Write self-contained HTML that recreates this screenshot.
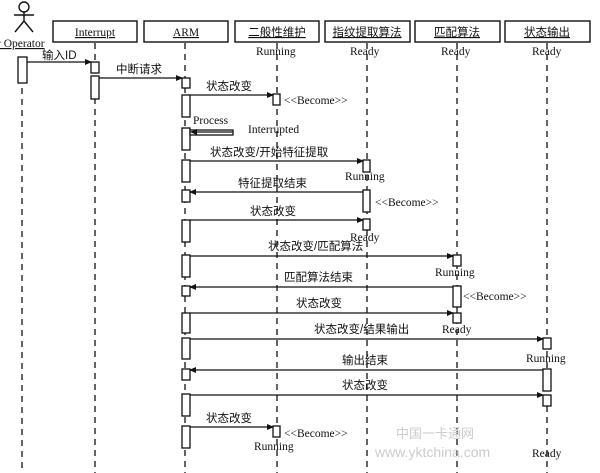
<!DOCTYPE html>
<html><head><meta charset="utf-8"><style>
html,body{margin:0;padding:0;background:#fff;}
svg{display:block;}
text{font-family:"Liberation Serif","Noto Serif CJK SC",serif;font-size:11.5px;fill:#111;}
.cj{font-family:"Liberation Sans","Noto Sans CJK SC",sans-serif;font-size:11.5px;}
</style></head><body>
<svg width="600" height="473" viewBox="0 0 600 473" xmlns="http://www.w3.org/2000/svg">
<defs><marker id="a" markerWidth="7" markerHeight="6" refX="6" refY="3" orient="auto" markerUnits="userSpaceOnUse"><path d="M0,0 L7,3 L0,6 z" fill="#111"/></marker></defs>
<g stroke="#222" stroke-width="1.4" stroke-dasharray="6,5" fill="none">
<line x1="22" y1="88" x2="22" y2="473"/>
<line x1="95" y1="43" x2="95" y2="473"/>
<line x1="185" y1="43" x2="185" y2="473"/>
<line x1="277" y1="43" x2="277" y2="473"/>
<line x1="367" y1="43" x2="367" y2="473"/>
<line x1="457" y1="43" x2="457" y2="473"/>
<line x1="547" y1="43" x2="547" y2="473"/>
</g>
<g stroke="#111" stroke-width="1.4" fill="none">
<circle cx="24" cy="7" r="5"/>
<line x1="24" y1="12" x2="24" y2="21"/><line x1="14" y1="15" x2="34" y2="15"/>
<line x1="24" y1="21" x2="15" y2="32"/><line x1="24" y1="21" x2="33" y2="32"/>
</g>
<text x="-3" y="47" style="text-decoration:underline">r Operator</text>
<g fill="#fff" stroke="#111" stroke-width="1.4">
<rect x="53" y="21" width="84" height="21"/><rect x="144" y="21" width="84" height="21"/>
<rect x="235" y="21" width="84" height="21"/><rect x="325" y="21" width="85" height="21"/>
<rect x="415" y="21" width="85" height="21"/><rect x="505" y="21" width="85" height="21"/>
</g>
<text x="95" y="36" text-anchor="middle" style="text-decoration:underline">Interrupt</text>
<text x="186" y="36" text-anchor="middle" style="text-decoration:underline">ARM</text>
<text x="277" y="36" text-anchor="middle" class="cj" style="text-decoration:underline">二般性维护</text>
<text x="367" y="36" text-anchor="middle" class="cj" style="text-decoration:underline">指纹提取算法</text>
<text x="457" y="36" text-anchor="middle" class="cj" style="text-decoration:underline">匹配算法</text>
<text x="547" y="36" text-anchor="middle" class="cj" style="text-decoration:underline">状态输出</text>
<text x="256" y="55">Running</text><text x="350" y="55">Ready</text><text x="441" y="55">Ready</text><text x="532" y="55">Ready</text>
<g fill="#fff" stroke="#111" stroke-width="1.3">
<rect x="18" y="57" width="9" height="26"/>
<rect x="91" y="62" width="8" height="11"/><rect x="91" y="76" width="8" height="23"/>
<rect x="182" y="78" width="8" height="10"/><rect x="182" y="95" width="8" height="22"/>
<rect x="273" y="94" width="7" height="11"/>
<rect x="182" y="128" width="8" height="22"/>
<rect x="190" y="130" width="43" height="5"/>
<rect x="182" y="160" width="8" height="22"/><rect x="363" y="160" width="7" height="12"/>
<rect x="182" y="190" width="8" height="12"/><rect x="363" y="190" width="7" height="22"/>
<rect x="182" y="220" width="8" height="22"/><rect x="363" y="219" width="7" height="11"/>
<rect x="182" y="255" width="8" height="22"/><rect x="453" y="255" width="8" height="11"/>
<rect x="182" y="286" width="8" height="10"/><rect x="453" y="286" width="8" height="21"/>
<rect x="182" y="313" width="8" height="20"/><rect x="453" y="313" width="8" height="10"/>
<rect x="182" y="338" width="8" height="21"/><rect x="543" y="338" width="8" height="11"/>
<rect x="182" y="369" width="8" height="11"/><rect x="543" y="369" width="8" height="22"/>
<rect x="182" y="394" width="8" height="22"/><rect x="543" y="395" width="8" height="11"/>
<rect x="182" y="426" width="8" height="22"/><rect x="273" y="426" width="7" height="11"/>
</g>
<g stroke="#111" stroke-width="1.3" marker-end="url(#a)">
<line x1="27" y1="62" x2="91" y2="62"/>
<line x1="99" y1="78" x2="182" y2="78"/>
<line x1="190" y1="95" x2="273" y2="95"/>
<line x1="233" y1="132" x2="191" y2="132"/>
<line x1="190" y1="161" x2="363" y2="161"/>
<line x1="363" y1="192" x2="190" y2="192"/>
<line x1="190" y1="220" x2="363" y2="220"/>
<line x1="190" y1="256" x2="453" y2="256"/>
<line x1="453" y1="287" x2="190" y2="287"/>
<line x1="190" y1="313" x2="453" y2="313"/>
<line x1="190" y1="339" x2="543" y2="339"/>
<line x1="543" y1="370" x2="190" y2="370"/>
<line x1="190" y1="395" x2="543" y2="395"/>
<line x1="190" y1="427" x2="273" y2="427"/>
</g>
<text x="42" y="59" class="cj">输入ID</text>
<text x="116" y="73" class="cj">中断请求</text>
<text x="206" y="90" class="cj">状态改变</text>
<text x="284" y="104">&lt;&lt;Become&gt;&gt;</text>
<text x="193" y="124">Process</text>
<text x="248" y="133">Interrupted</text>
<text x="210" y="156" class="cj">状态改变/开始特征提取</text>
<text x="345" y="180">Running</text>
<text x="238" y="187" class="cj">特征提取结束</text>
<text x="375" y="206">&lt;&lt;Become&gt;&gt;</text>
<text x="250" y="215" class="cj">状态改变</text>
<text x="350" y="241">Ready</text>
<text x="268" y="250" class="cj">状态改变/匹配算法</text>
<text x="435" y="276">Running</text>
<text x="284" y="281" class="cj">匹配算法结束</text>
<text x="463" y="300">&lt;&lt;Become&gt;&gt;</text>
<text x="296" y="307" class="cj">状态改变</text>
<text x="442" y="333">Ready</text>
<text x="314" y="333" class="cj">状态改变/结果输出</text>
<text x="526" y="362">Running</text>
<text x="342" y="364" class="cj">输出结束</text>
<text x="342" y="389" class="cj">状态改变</text>
<text x="206" y="422" class="cj">状态改变</text>
<text x="284" y="437">&lt;&lt;Become&gt;&gt;</text>
<text x="254" y="450">Running</text>
<text x="532" y="457">Ready</text>
<text x="396" y="438" class="cj" style="fill:#ccc;font-size:13px">中国一卡通网</text>
<text x="375" y="457" style="fill:#ccc;font-size:14px;font-family:'Liberation Sans',sans-serif">www.yktchina.com</text>
</svg>
</body></html>
